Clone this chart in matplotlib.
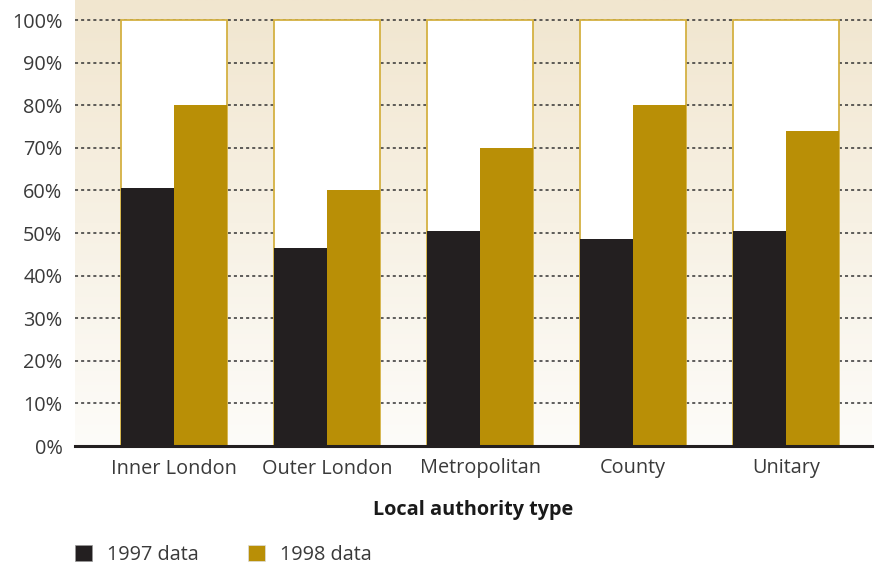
import numpy as np
import matplotlib
matplotlib.use('Agg')
import matplotlib.pyplot as plt
from matplotlib.colors import LinearSegmentedColormap
from matplotlib.patches import Patch

plt.rcParams['font.family'] = ['Open Sans', 'DejaVu Sans']

# data
categories = ['Inner London', 'Outer London', 'Metropolitan', 'County', 'Unitary']
data_1997 = [60.5, 46.5, 50.5, 48.5, 50.5]
data_1998 = [80, 60, 70, 80, 74]
yticks = [0, 10, 20, 30, 40, 50, 60, 70, 80, 90, 100]

dark = '#231f20'
gold = '#b98f06'
edge = '#d4b142'
txt = '#3a3a3a'
fs = 14.3

fig = plt.figure(figsize=(8.85, 5.67), dpi=100)
ax = fig.add_axes([75 / 885, 121 / 567, 797 / 885, 446 / 567])

x = np.arange(len(categories))
ax.set_xlim(-0.647, 4.562)
ax.set_ylim(0, 104.7)

# background gradient (beige at top -> white at bottom)
cmap = LinearSegmentedColormap.from_list('bg', ['#fdfcf9', '#f1e6cf'])
grad = np.linspace(0, 1, 256).reshape(-1, 1)
ax.imshow(grad, extent=[0, 1, 0, 1], transform=ax.transAxes, origin='lower',
          aspect='auto', cmap=cmap, zorder=0)

# dotted gridlines
for t in yticks[1:]:
    ax.axhline(t, color='#333333', lw=1.1, ls=(0, (2, 2)), zorder=1)

gw = 0.693
bw = gw / 2
# white frame behind each pair
ax.bar(x, 100, width=gw, color='white', edgecolor=edge, linewidth=1.3, zorder=2)
ax.bar(x - bw / 2, data_1997, width=bw, color=dark, zorder=3, label='1997 data')
ax.bar(x + bw / 2, data_1998, width=bw, color=gold, zorder=3, label='1998 data')

ax.set_xticks(x)
ax.set_xticklabels(categories, fontsize=fs, color=txt)
ax.set_yticks(yticks)
ax.set_yticklabels([f'{t}%' for t in yticks], fontsize=fs, color=txt)
ax.tick_params(length=0, pad=9)
ax.tick_params(axis='x', pad=9)

for s in ['top', 'right', 'left']:
    ax.spines[s].set_visible(False)
ax.spines['bottom'].set_color(dark)
ax.spines['bottom'].set_linewidth(2.2)
ax.spines['bottom'].set_zorder(5)

fig.text(473 / 885, 1 - 510 / 567, 'Local authority type', ha='center', va='center',
         fontsize=fs, fontweight='bold', color='#1a1a1a')

handles = [Patch(facecolor=dark, edgecolor='#999999', lw=0.5, label='1997 data'),
           Patch(facecolor=gold, edgecolor='#dddddd', lw=0.5, label='1998 data')]
fig.legend(handles=handles, loc='center left', bbox_to_anchor=(57 / 885, 1 - 555 / 567),
           ncol=2, frameon=False, fontsize=fs, handlelength=0.85, handleheight=0.85,
           handletextpad=0.75, columnspacing=2.5, labelcolor=txt)

fig.savefig('out.png', dpi=100)
